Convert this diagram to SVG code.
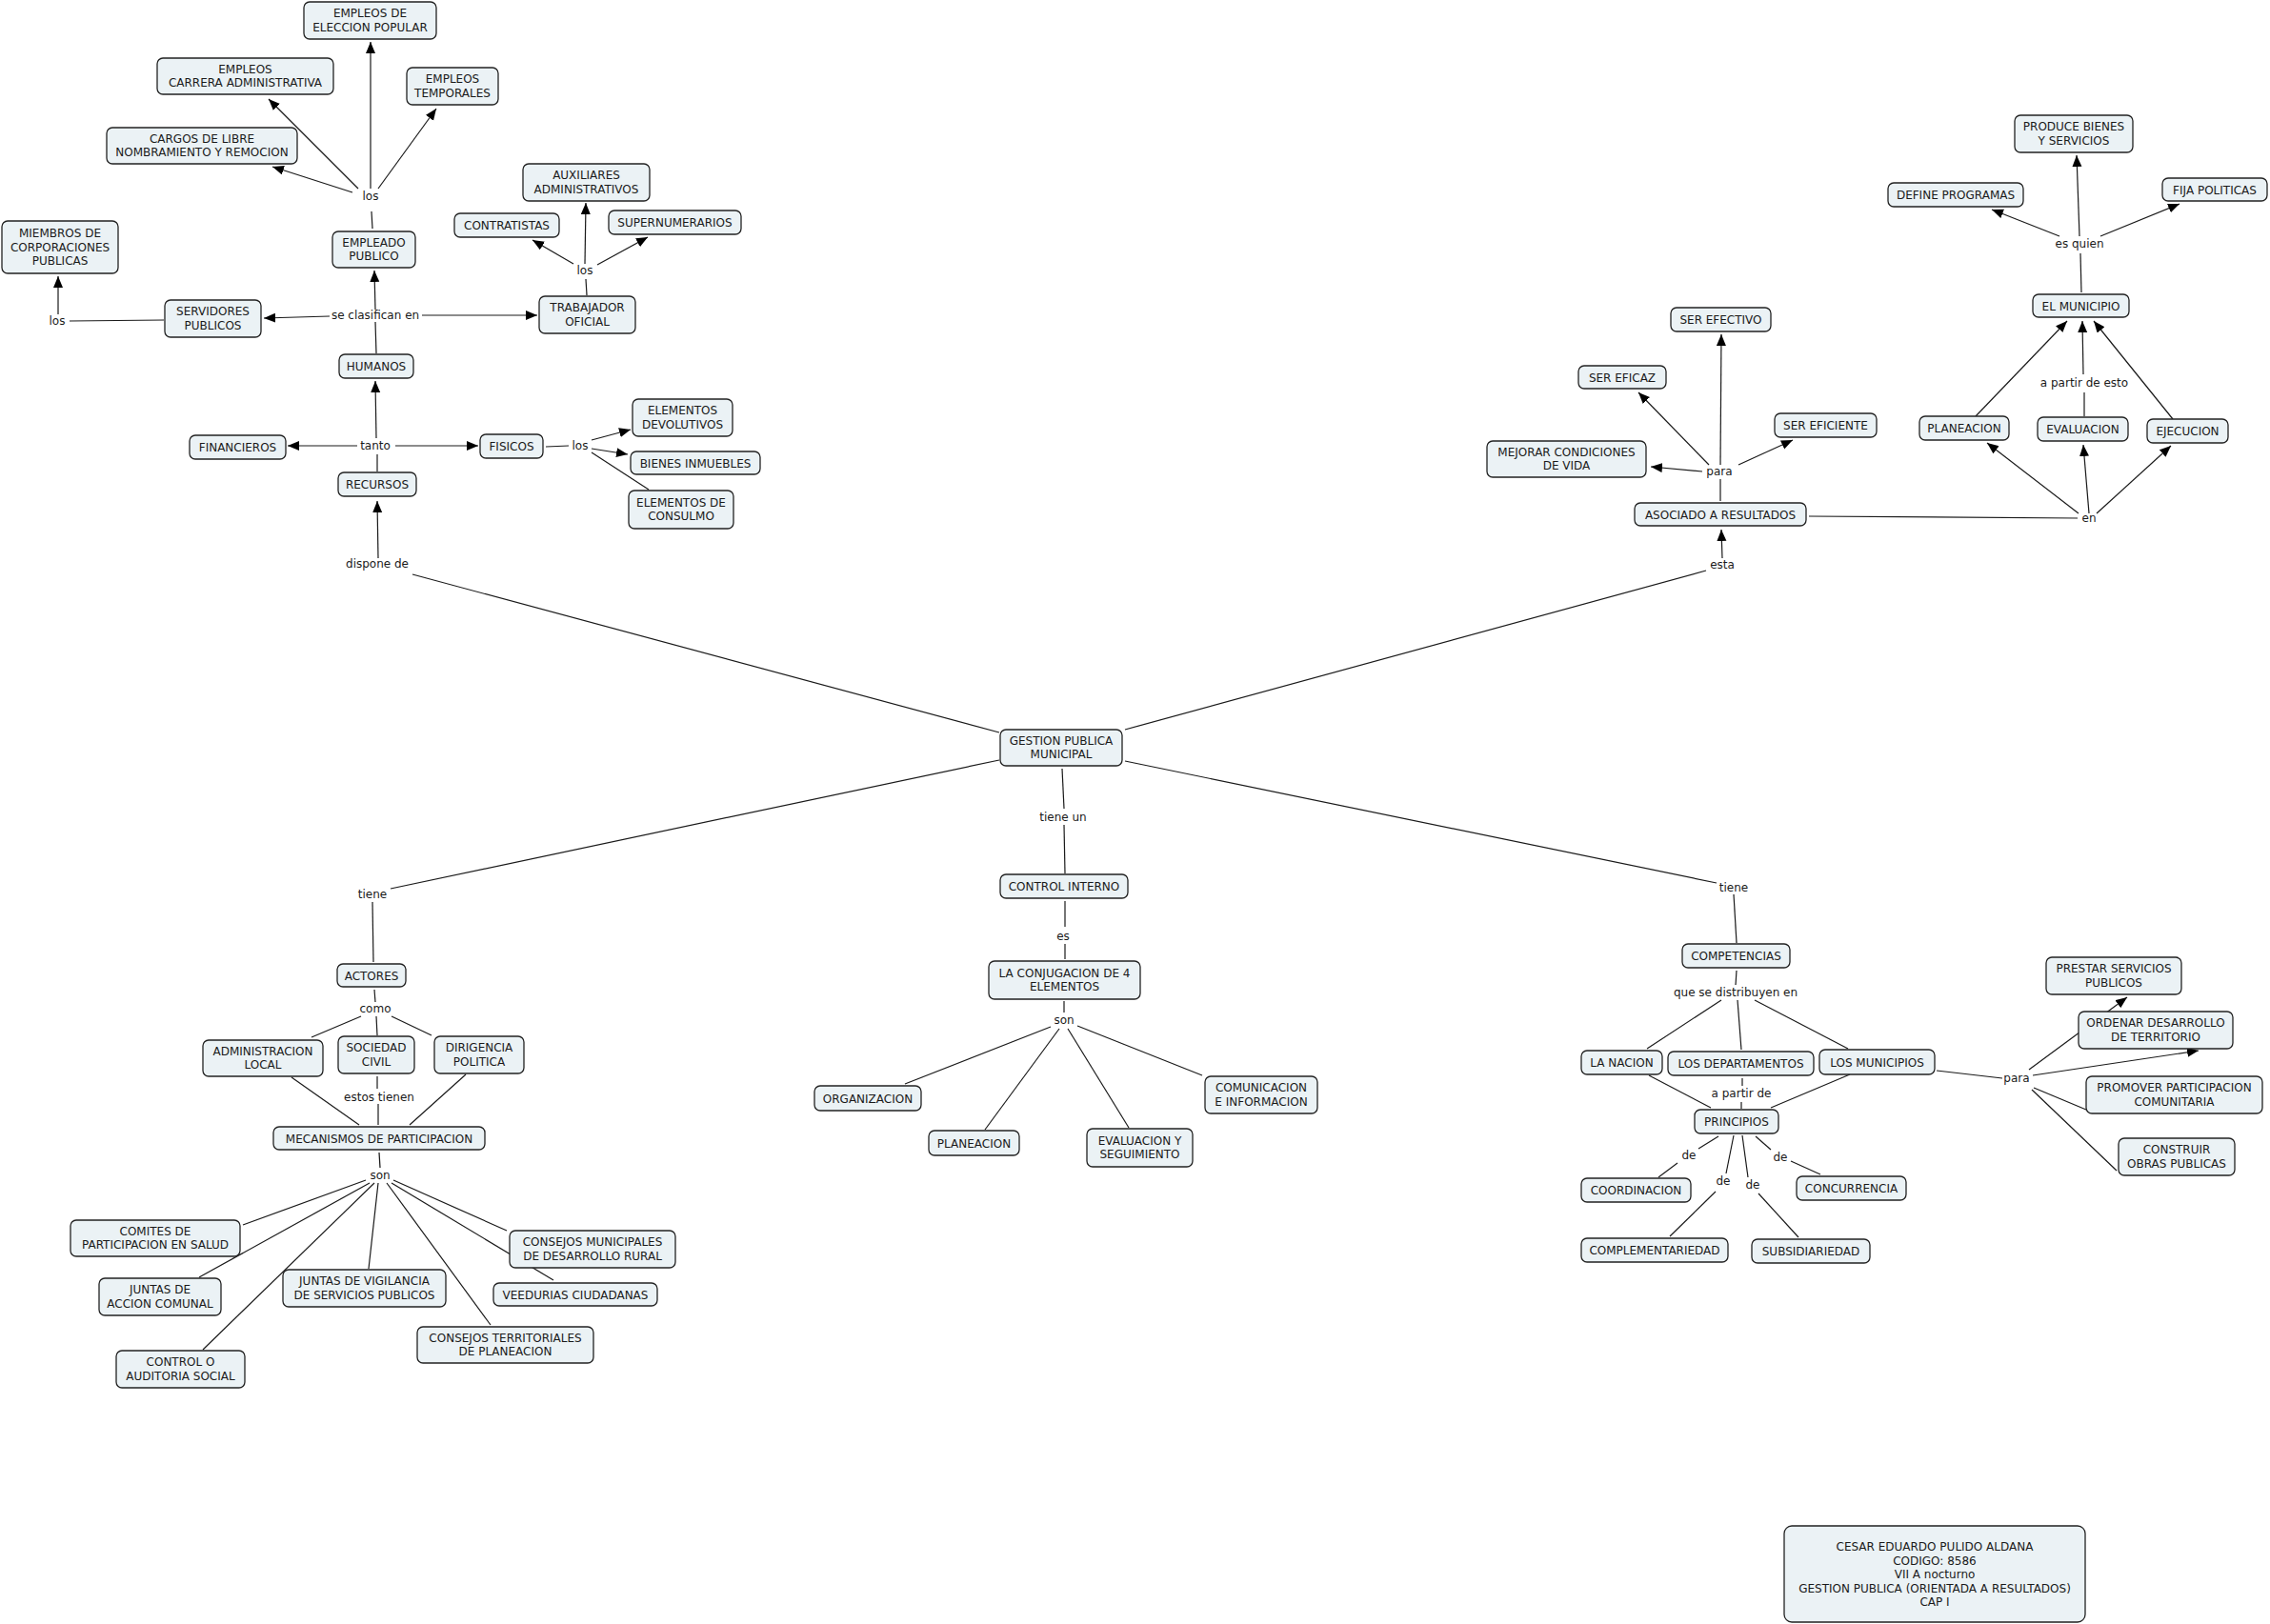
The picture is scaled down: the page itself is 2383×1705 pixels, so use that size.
<svg xmlns="http://www.w3.org/2000/svg" width="2383" height="1705" viewBox="0 0 2383 1705">
<style>
.n rect{fill:#ebf2f5;stroke:#222;stroke-width:1.3}
text{font-family:"DejaVu Sans","Liberation Sans",sans-serif;font-size:12px;fill:#1a1a1a;text-anchor:middle}
.c line{stroke:#1a1a1a;stroke-width:1.2}
.c line.a{marker-end:url(#ah)}
</style>
<defs>
<marker id="ah" markerUnits="userSpaceOnUse" markerWidth="13" markerHeight="11" refX="12" refY="5" orient="auto">
<path d="M0,0 L12,5 L0,10 z" fill="#000"/>
</marker>
</defs>
<rect width="2383" height="1705" fill="#fff"/>
<g id="connectors" class="c">
<line x1="390" y1="222" x2="391" y2="240"/>
<line class="a" x1="389" y1="198" x2="389" y2="44"/>
<line class="a" x1="376" y1="198" x2="282" y2="104"/>
<line class="a" x1="397" y1="198" x2="458" y2="114"/>
<line class="a" x1="370" y1="202" x2="286" y2="175"/>
<line x1="616" y1="310" x2="615" y2="293"/>
<line class="a" x1="614" y1="277" x2="615" y2="213"/>
<line class="a" x1="602" y1="277" x2="559" y2="252"/>
<line class="a" x1="627" y1="278" x2="680" y2="249"/>
<line class="a" x1="394" y1="325" x2="393" y2="284"/>
<line x1="395" y1="371" x2="394" y2="338"/>
<line class="a" x1="346" y1="332" x2="277" y2="334"/>
<line class="a" x1="443" y1="331" x2="564" y2="331"/>
<line x1="172" y1="336" x2="73" y2="337"/>
<line class="a" x1="61" y1="330" x2="61" y2="290"/>
<line class="a" x1="395" y1="460" x2="394" y2="400"/>
<line x1="396" y1="495" x2="396" y2="477"/>
<line class="a" x1="375" y1="468" x2="302" y2="468"/>
<line class="a" x1="415" y1="468" x2="502" y2="468"/>
<line x1="573" y1="469" x2="597" y2="468"/>
<line class="a" x1="621" y1="462" x2="662" y2="451"/>
<line class="a" x1="621" y1="471" x2="659" y2="477"/>
<line x1="621" y1="475" x2="681" y2="514"/>
<line class="a" x1="397" y1="586" x2="396" y2="526"/>
<line x1="433" y1="603" x2="1049" y2="769"/>
<line x1="1181" y1="766" x2="1791" y2="599"/>
<line class="a" x1="1808" y1="586" x2="1807" y2="556"/>
<line x1="1181" y1="799" x2="1802" y2="927"/>
<line x1="1820" y1="939" x2="1823" y2="990"/>
<line x1="1115" y1="807" x2="1117" y2="849"/>
<line x1="1117" y1="866" x2="1118" y2="917"/>
<line x1="1118" y1="946" x2="1118" y2="973"/>
<line x1="1118" y1="991" x2="1118" y2="1007"/>
<line x1="1049" y1="798" x2="410" y2="933"/>
<line x1="391" y1="947" x2="392" y2="1010"/>
<line x1="1117" y1="1051" x2="1117" y2="1063"/>
<line x1="1103" y1="1078" x2="950" y2="1138"/>
<line x1="1112" y1="1080" x2="1034" y2="1186"/>
<line x1="1121" y1="1080" x2="1185" y2="1184"/>
<line x1="1131" y1="1077" x2="1262" y2="1129"/>
<line x1="1806" y1="526" x2="1806" y2="503"/>
<line class="a" x1="1806" y1="488" x2="1807" y2="351"/>
<line class="a" x1="1794" y1="488" x2="1720" y2="412"/>
<line class="a" x1="1787" y1="495" x2="1733" y2="490"/>
<line class="a" x1="1825" y1="488" x2="1882" y2="462"/>
<line x1="1899" y1="542" x2="2181" y2="544"/>
<line class="a" x1="2182" y1="539" x2="2086" y2="465"/>
<line class="a" x1="2193" y1="539" x2="2187" y2="467"/>
<line class="a" x1="2201" y1="539" x2="2279" y2="468"/>
<line class="a" x1="2074" y1="437" x2="2170" y2="337"/>
<line x1="2188" y1="437" x2="2188" y2="412"/>
<line class="a" x1="2187" y1="393" x2="2186" y2="337"/>
<line class="a" x1="2281" y1="440" x2="2198" y2="337"/>
<line x1="2185" y1="307" x2="2184" y2="266"/>
<line class="a" x1="2183" y1="248" x2="2180" y2="163"/>
<line class="a" x1="2162" y1="248" x2="2091" y2="220"/>
<line class="a" x1="2205" y1="248" x2="2288" y2="214"/>
<line x1="1823" y1="1019" x2="1822" y2="1034"/>
<line x1="1807" y1="1050" x2="1729" y2="1101"/>
<line x1="1824" y1="1050" x2="1828" y2="1102"/>
<line x1="1842" y1="1050" x2="1940" y2="1101"/>
<line x1="1731" y1="1129" x2="1796" y2="1163"/>
<line x1="1829" y1="1132" x2="1829" y2="1140"/>
<line x1="1828" y1="1157" x2="1828" y2="1164"/>
<line x1="1942" y1="1128" x2="1859" y2="1163"/>
<line x1="1804" y1="1193" x2="1783" y2="1206"/>
<line x1="1761" y1="1221" x2="1741" y2="1236"/>
<line x1="1820" y1="1192" x2="1812" y2="1232"/>
<line x1="1801" y1="1251" x2="1753" y2="1298"/>
<line x1="1829" y1="1192" x2="1835" y2="1236"/>
<line x1="1846" y1="1253" x2="1888" y2="1299"/>
<line x1="1843" y1="1193" x2="1859" y2="1207"/>
<line x1="1880" y1="1219" x2="1911" y2="1233"/>
<line x1="2033" y1="1124" x2="2102" y2="1132"/>
<line class="a" x1="2130" y1="1123" x2="2233" y2="1047"/>
<line class="a" x1="2134" y1="1129" x2="2308" y2="1103"/>
<line x1="2135" y1="1142" x2="2190" y2="1165"/>
<line x1="2133" y1="1144" x2="2222" y2="1229"/>
<line x1="393" y1="1039" x2="394" y2="1052"/>
<line x1="379" y1="1067" x2="327" y2="1089"/>
<line x1="395" y1="1067" x2="396" y2="1087"/>
<line x1="411" y1="1067" x2="453" y2="1087"/>
<line x1="306" y1="1131" x2="377" y2="1181"/>
<line x1="396" y1="1130" x2="396" y2="1143"/>
<line x1="397" y1="1159" x2="397" y2="1181"/>
<line x1="489" y1="1128" x2="430" y2="1181"/>
<line x1="398" y1="1210" x2="399" y2="1226"/>
<line x1="384" y1="1239" x2="255" y2="1286"/>
<line x1="388" y1="1242" x2="209" y2="1341"/>
<line x1="393" y1="1242" x2="213" y2="1417"/>
<line x1="397" y1="1242" x2="387" y2="1332"/>
<line x1="406" y1="1242" x2="515" y2="1391"/>
<line x1="411" y1="1242" x2="581" y2="1344"/>
<line x1="413" y1="1239" x2="532" y2="1292"/>
</g>
<g id="labels">
<text x="389" y="210">los</text>
<text x="614" y="288">los</text>
<text x="60" y="341">los</text>
<text x="394" y="335">se clasifican en</text>
<text x="394" y="472">tanto</text>
<text x="609" y="472">los</text>
<text x="396" y="596">dispone de</text>
<text x="1808" y="597">esta</text>
<text x="391" y="943">tiene</text>
<text x="1116" y="862">tiene un</text>
<text x="1820" y="936">tiene</text>
<text x="1116" y="987">es</text>
<text x="1117" y="1075">son</text>
<text x="1805" y="499">para</text>
<text x="2193" y="548">en</text>
<text x="2188" y="406">a partir de esto</text>
<text x="2183" y="260">es quien</text>
<text x="1822" y="1046">que se distribuyen en</text>
<text x="1828" y="1152">a partir de</text>
<text x="1773" y="1217">de</text>
<text x="1809" y="1244">de</text>
<text x="1840" y="1248">de</text>
<text x="1869" y="1219">de</text>
<text x="2117" y="1136">para</text>
<text x="394" y="1063">como</text>
<text x="398" y="1156">estos tienen</text>
<text x="399" y="1238">son</text>
</g>
<g id="n-eleccion" class="n"><rect x="319" y="2" width="139" height="39" rx="6"/><text x="388.5" y="18">EMPLEOS DE</text><text x="388.5" y="32.5">ELECCION POPULAR</text></g>
<g id="n-carrera" class="n"><rect x="165" y="61" width="185" height="38" rx="6"/><text x="257.5" y="76.5">EMPLEOS</text><text x="257.5" y="91">CARRERA ADMINISTRATIVA</text></g>
<g id="n-temporales" class="n"><rect x="427" y="71" width="96" height="39" rx="6"/><text x="475" y="87">EMPLEOS</text><text x="475" y="101.5">TEMPORALES</text></g>
<g id="n-cargos" class="n"><rect x="112" y="134" width="200" height="38" rx="6"/><text x="212" y="149.5">CARGOS DE LIBRE</text><text x="212" y="164">NOMBRAMIENTO Y REMOCION</text></g>
<g id="n-auxiliares" class="n"><rect x="549" y="172" width="133" height="39" rx="6"/><text x="615.5" y="188">AUXILIARES</text><text x="615.5" y="202.5">ADMINISTRATIVOS</text></g>
<g id="n-contratistas" class="n"><rect x="477" y="224" width="110" height="25" rx="6"/><text x="532" y="241">CONTRATISTAS</text></g>
<g id="n-supernumerarios" class="n"><rect x="639" y="221" width="139" height="25" rx="6"/><text x="708.5" y="238">SUPERNUMERARIOS</text></g>
<g id="n-miembros" class="n"><rect x="2" y="232" width="122" height="55" rx="6"/><text x="63" y="249">MIEMBROS DE</text><text x="63" y="263.5">CORPORACIONES</text><text x="63" y="278">PUBLICAS</text></g>
<g id="n-empleado" class="n"><rect x="349" y="243" width="87" height="38" rx="6"/><text x="392.5" y="258.5">EMPLEADO</text><text x="392.5" y="273">PUBLICO</text></g>
<g id="n-servidores" class="n"><rect x="173" y="315" width="101" height="39" rx="6"/><text x="223.5" y="331">SERVIDORES</text><text x="223.5" y="345.5">PUBLICOS</text></g>
<g id="n-trabajador" class="n"><rect x="566" y="311" width="101" height="39" rx="6"/><text x="616.5" y="327">TRABAJADOR</text><text x="616.5" y="341.5">OFICIAL</text></g>
<g id="n-humanos" class="n"><rect x="356" y="372" width="78" height="25" rx="6"/><text x="395" y="389">HUMANOS</text></g>
<g id="n-financieros" class="n"><rect x="199" y="457" width="101" height="25" rx="6"/><text x="249.5" y="474">FINANCIEROS</text></g>
<g id="n-fisicos" class="n"><rect x="504" y="456" width="66" height="25" rx="6"/><text x="537" y="473">FISICOS</text></g>
<g id="n-devolutivos" class="n"><rect x="664" y="419" width="105" height="39" rx="6"/><text x="716.5" y="435">ELEMENTOS</text><text x="716.5" y="449.5">DEVOLUTIVOS</text></g>
<g id="n-bienes" class="n"><rect x="662" y="474" width="136" height="24" rx="6"/><text x="730" y="490.5">BIENES INMUEBLES</text></g>
<g id="n-consulmo" class="n"><rect x="660" y="515" width="110" height="40" rx="6"/><text x="715" y="531.5">ELEMENTOS DE</text><text x="715" y="546">CONSULMO</text></g>
<g id="n-recursos" class="n"><rect x="355" y="496" width="82" height="25" rx="6"/><text x="396" y="513">RECURSOS</text></g>
<g id="n-gestion" class="n"><rect x="1050" y="766" width="128" height="38" rx="6"/><text x="1114" y="781.5">GESTION PUBLICA</text><text x="1114" y="796">MUNICIPAL</text></g>
<g id="n-control-interno" class="n"><rect x="1050" y="918" width="134" height="25" rx="6"/><text x="1117" y="935">CONTROL INTERNO</text></g>
<g id="n-conjugacion" class="n"><rect x="1038" y="1009" width="159" height="40" rx="6"/><text x="1117.5" y="1025.5">LA CONJUGACION DE 4</text><text x="1117.5" y="1040">ELEMENTOS</text></g>
<g id="n-organizacion" class="n"><rect x="855" y="1140" width="112" height="26" rx="6"/><text x="911" y="1157.5">ORGANIZACION</text></g>
<g id="n-planeacion-ci" class="n"><rect x="975" y="1187" width="95" height="26" rx="6"/><text x="1022.5" y="1204.5">PLANEACION</text></g>
<g id="n-evaluacion-seg" class="n"><rect x="1141" y="1185" width="111" height="40" rx="6"/><text x="1196.5" y="1201.5">EVALUACION Y</text><text x="1196.5" y="1216">SEGUIMIENTO</text></g>
<g id="n-comunicacion" class="n"><rect x="1265" y="1130" width="118" height="39" rx="6"/><text x="1324" y="1146">COMUNICACION</text><text x="1324" y="1160.5">E INFORMACION</text></g>
<g id="n-asociado" class="n"><rect x="1716" y="528" width="180" height="24" rx="6"/><text x="1806" y="544.5">ASOCIADO A RESULTADOS</text></g>
<g id="n-produce" class="n"><rect x="2115" y="121" width="124" height="39" rx="6"/><text x="2177" y="137">PRODUCE BIENES</text><text x="2177" y="151.5">Y SERVICIOS</text></g>
<g id="n-define" class="n"><rect x="1982" y="192" width="142" height="25" rx="6"/><text x="2053" y="209">DEFINE PROGRAMAS</text></g>
<g id="n-fija" class="n"><rect x="2270" y="187" width="110" height="24" rx="6"/><text x="2325" y="203.5">FIJA POLITICAS</text></g>
<g id="n-municipio" class="n"><rect x="2134" y="309" width="101" height="24" rx="6"/><text x="2184.5" y="325.5">EL MUNICIPIO</text></g>
<g id="n-efectivo" class="n"><rect x="1754" y="323" width="105" height="25" rx="6"/><text x="1806.5" y="340">SER EFECTIVO</text></g>
<g id="n-eficaz" class="n"><rect x="1657" y="384" width="92" height="24" rx="6"/><text x="1703" y="400.5">SER EFICAZ</text></g>
<g id="n-eficiente" class="n"><rect x="1863" y="434" width="107" height="25" rx="6"/><text x="1916.5" y="451">SER EFICIENTE</text></g>
<g id="n-mejorar" class="n"><rect x="1561" y="463" width="167" height="38" rx="6"/><text x="1644.5" y="478.5">MEJORAR CONDICIONES</text><text x="1644.5" y="493">DE VIDA</text></g>
<g id="n-planeacion-m" class="n"><rect x="2015" y="437" width="94" height="25" rx="6"/><text x="2062" y="454">PLANEACION</text></g>
<g id="n-evaluacion-m" class="n"><rect x="2139" y="438" width="95" height="25" rx="6"/><text x="2186.5" y="455">EVALUACION</text></g>
<g id="n-ejecucion" class="n"><rect x="2254" y="440" width="85" height="25" rx="6"/><text x="2296.5" y="457">EJECUCION</text></g>
<g id="n-competencias" class="n"><rect x="1766" y="991" width="113" height="25" rx="6"/><text x="1822.5" y="1008">COMPETENCIAS</text></g>
<g id="n-nacion" class="n"><rect x="1660" y="1103" width="85" height="25" rx="6"/><text x="1702.5" y="1120">LA NACION</text></g>
<g id="n-departamentos" class="n"><rect x="1751" y="1104" width="153" height="25" rx="6"/><text x="1827.5" y="1121">LOS DEPARTAMENTOS</text></g>
<g id="n-municipios" class="n"><rect x="1910" y="1102" width="121" height="26" rx="6"/><text x="1970.5" y="1119.5">LOS MUNICIPIOS</text></g>
<g id="n-principios" class="n"><rect x="1779" y="1165" width="88" height="25" rx="6"/><text x="1823" y="1182">PRINCIPIOS</text></g>
<g id="n-coordinacion" class="n"><rect x="1660" y="1237" width="115" height="25" rx="6"/><text x="1717.5" y="1254">COORDINACION</text></g>
<g id="n-concurrencia" class="n"><rect x="1886" y="1235" width="115" height="25" rx="6"/><text x="1943.5" y="1252">CONCURRENCIA</text></g>
<g id="n-complementariedad" class="n"><rect x="1660" y="1300" width="154" height="25" rx="6"/><text x="1737" y="1317">COMPLEMENTARIEDAD</text></g>
<g id="n-subsidiariedad" class="n"><rect x="1839" y="1301" width="124" height="25" rx="6"/><text x="1901" y="1318">SUBSIDIARIEDAD</text></g>
<g id="n-prestar" class="n"><rect x="2148" y="1005" width="142" height="39" rx="6"/><text x="2219" y="1021">PRESTAR SERVICIOS</text><text x="2219" y="1035.5">PUBLICOS</text></g>
<g id="n-ordenar" class="n"><rect x="2182" y="1062" width="162" height="39" rx="6"/><text x="2263" y="1078">ORDENAR DESARROLLO</text><text x="2263" y="1092.5">DE TERRITORIO</text></g>
<g id="n-promover" class="n"><rect x="2190" y="1130" width="185" height="39" rx="6"/><text x="2282.5" y="1146">PROMOVER PARTICIPACION</text><text x="2282.5" y="1160.5">COMUNITARIA</text></g>
<g id="n-construir" class="n"><rect x="2224" y="1195" width="122" height="39" rx="6"/><text x="2285" y="1211">CONSTRUIR</text><text x="2285" y="1225.5">OBRAS PUBLICAS</text></g>
<g id="n-actores" class="n"><rect x="354" y="1012" width="72" height="24" rx="6"/><text x="390" y="1028.5">ACTORES</text></g>
<g id="n-admin" class="n"><rect x="213" y="1092" width="126" height="38" rx="6"/><text x="276" y="1107.5">ADMINISTRACION</text><text x="276" y="1122">LOCAL</text></g>
<g id="n-sociedad" class="n"><rect x="355" y="1088" width="80" height="39" rx="6"/><text x="395" y="1104">SOCIEDAD</text><text x="395" y="1118.5">CIVIL</text></g>
<g id="n-dirigencia" class="n"><rect x="456" y="1088" width="94" height="39" rx="6"/><text x="503" y="1104">DIRIGENCIA</text><text x="503" y="1118.5">POLITICA</text></g>
<g id="n-mecanismos" class="n"><rect x="287" y="1183" width="222" height="24" rx="6"/><text x="398" y="1199.5">MECANISMOS DE PARTICIPACION</text></g>
<g id="n-comites" class="n"><rect x="74" y="1281" width="178" height="38" rx="6"/><text x="163" y="1296.5">COMITES DE</text><text x="163" y="1311">PARTICIPACION EN SALUD</text></g>
<g id="n-juntas-accion" class="n"><rect x="104" y="1342" width="128" height="39" rx="6"/><text x="168" y="1358">JUNTAS DE</text><text x="168" y="1372.5">ACCION COMUNAL</text></g>
<g id="n-juntas-vigilancia" class="n"><rect x="297" y="1333" width="171" height="39" rx="6"/><text x="382.5" y="1349">JUNTAS DE VIGILANCIA</text><text x="382.5" y="1363.5">DE SERVICIOS PUBLICOS</text></g>
<g id="n-consejos-mun" class="n"><rect x="535" y="1292" width="174" height="39" rx="6"/><text x="622" y="1308">CONSEJOS MUNICIPALES</text><text x="622" y="1322.5">DE DESARROLLO RURAL</text></g>
<g id="n-veedurias" class="n"><rect x="518" y="1347" width="172" height="24" rx="6"/><text x="604" y="1363.5">VEEDURIAS CIUDADANAS</text></g>
<g id="n-consejos-terr" class="n"><rect x="438" y="1393" width="185" height="38" rx="6"/><text x="530.5" y="1408.5">CONSEJOS TERRITORIALES</text><text x="530.5" y="1423">DE PLANEACION</text></g>
<g id="n-control-o" class="n"><rect x="122" y="1418" width="135" height="39" rx="6"/><text x="189.5" y="1434">CONTROL O</text><text x="189.5" y="1448.5">AUDITORIA SOCIAL</text></g>
<g id="n-autor" class="n"><rect x="1873" y="1602" width="316" height="101" rx="8"/><text x="2031" y="1628">CESAR EDUARDO PULIDO ALDANA</text><text x="2031" y="1642.5">CODIGO: 8586</text><text x="2031" y="1657">VII A nocturno</text><text x="2031" y="1671.5">GESTION PUBLICA (ORIENTADA A RESULTADOS)</text><text x="2031" y="1686">CAP I</text></g>
</svg>
